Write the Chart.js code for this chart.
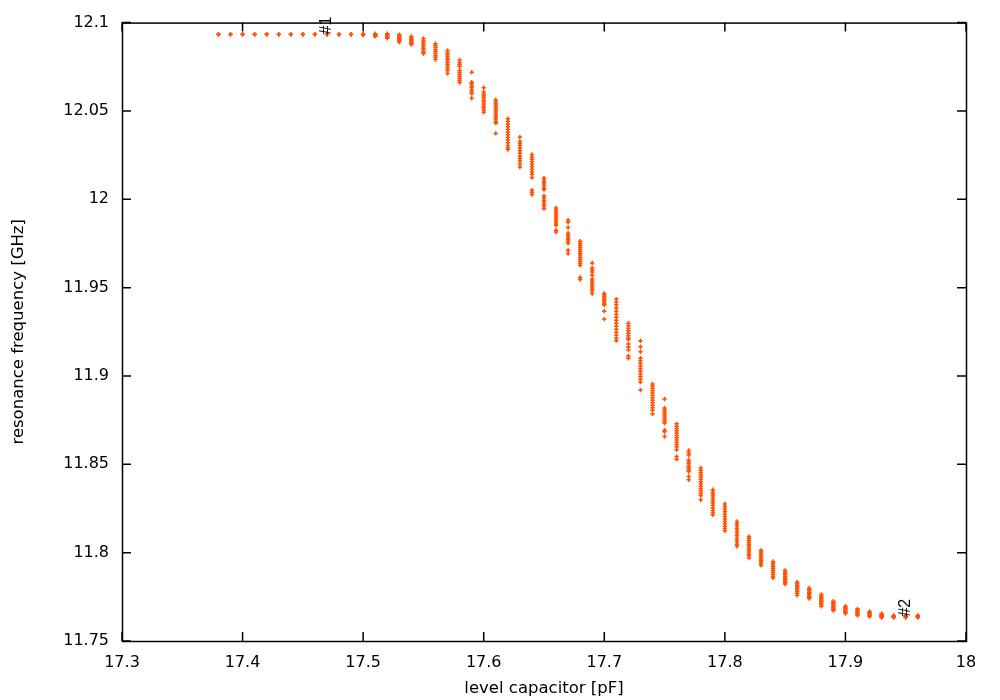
<!DOCTYPE html>
<html>
<head>
<meta charset="utf-8">
<script src="https://cdn.jsdelivr.net/npm/chart.js@4/dist/chart.umd.min.js"></script>
<style>
    html, body { margin: 0; padding: 0; background: #fff; }
    #wrap { width: 1000px; height: 700px; position: relative; }
</style>
</head>
<body>
<div id="wrap"><canvas id="resChart"></canvas></div>
<script>
// level capacitor settings [pF], one column of measurements each
const capValues = [
    17.38, 17.39, 17.40, 17.41, 17.42, 17.43, 17.44, 17.45, 17.46, 17.47,
    17.48, 17.49, 17.50, 17.51, 17.52, 17.53, 17.54, 17.55, 17.56, 17.57,
    17.58, 17.59, 17.60, 17.61, 17.62, 17.63, 17.64, 17.65, 17.66, 17.67,
    17.68, 17.69, 17.70, 17.71, 17.72, 17.73, 17.74, 17.75, 17.76, 17.77,
    17.78, 17.79, 17.80, 17.81, 17.82, 17.83, 17.84, 17.85, 17.86, 17.87,
    17.88, 17.89, 17.90, 17.91, 17.92, 17.93, 17.94, 17.95, 17.96
];

// resonance frequencies [GHz] read for each capacitor setting
const freqValues = [
    [12.0934, 12.0932], [12.0934, 12.0932], [12.0934, 12.0932], [12.0934, 12.0932],
    [12.0934, 12.0932], [12.0934, 12.0932], [12.0934, 12.0932], [12.0934, 12.0932],
    [12.0934, 12.0932], [12.0934, 12.0932], [12.0934, 12.0932], [12.0934, 12.0932],
    [12.0935, 12.0932, 12.0930],
    [12.0937, 12.0933, 12.0929, 12.0925, 12.0922],
    [12.0937, 12.0932, 12.0927, 12.0921, 12.0915, 12.0911],
    [12.0932, 12.0925, 12.0918, 12.0911, 12.0904, 12.0897, 12.0890],
    [12.0921, 12.0913, 12.0905, 12.0897, 12.0889, 12.0882, 12.0876],
    [12.0910, 12.0898, 12.0887, 12.0876, 12.0865, 12.0853, 12.0842, 12.0831, 12.0825],
    [12.0881, 12.0870, 12.0859, 12.0847, 12.0836, 12.0825, 12.0813, 12.0802, 12.0791],
    [12.0842, 12.0830, 12.0819, 12.0808, 12.0796, 12.0785, 12.0774, 12.0763, 12.0751, 12.0740, 12.0729, 12.0712],
    [12.0789, 12.0774, 12.0763, 12.0751, 12.0729, 12.0717, 12.0706, 12.0695, 12.0684, 12.0672, 12.0661],
    [12.0719, 12.0663, 12.0654, 12.0643, 12.0632, 12.0620, 12.0609, 12.0598, 12.0572],
    [12.0631, 12.0607, 12.0595, 12.0584, 12.0573, 12.0561, 12.0550, 12.0539, 12.0527, 12.0516, 12.0505, 12.0493],
    [12.0563, 12.0552, 12.0541, 12.0529, 12.0518, 12.0507, 12.0495, 12.0484, 12.0473, 12.0461, 12.0450, 12.0439, 12.0431, 12.0373],
    [12.0456, 12.0440, 12.0425, 12.0410, 12.0395, 12.0380, 12.0365, 12.0350, 12.0335, 12.0320, 12.0305, 12.0290, 12.0282],
    [12.0352, 12.0327, 12.0316, 12.0305, 12.0290, 12.0274, 12.0260, 12.0245, 12.0231, 12.0216, 12.0200, 12.0182],
    [12.0254, 12.0240, 12.0226, 12.0212, 12.0198, 12.0184, 12.0170, 12.0156, 12.0141, 12.0123, 12.0051, 12.0040, 12.0027],
    [12.0120, 12.0108, 12.0097, 12.0086, 12.0075, 12.0063, 12.0055, 12.0020, 12.0007, 11.9995, 11.9983, 11.9971, 11.9959, 11.9947],
    [11.9951, 11.9940, 11.9928, 11.9917, 11.9906, 11.9894, 11.9883, 11.9872, 11.9860, 11.9853, 11.9825, 11.9815],
    [11.9881, 11.9870, 11.9840, 11.9808, 11.9796, 11.9785, 11.9774, 11.9762, 11.9751, 11.9712, 11.9693],
    [11.9763, 11.9751, 11.9740, 11.9729, 11.9717, 11.9706, 11.9695, 11.9684, 11.9672, 11.9661, 11.9650, 11.9638, 11.9627, 11.9558, 11.9546],
    [11.9640, 11.9611, 11.9600, 11.9588, 11.9571, 11.9549, 11.9537, 11.9526, 11.9515, 11.9503, 11.9492, 11.9481, 11.9467],
    [11.9467, 11.9458, 11.9450, 11.9441, 11.9432, 11.9424, 11.9415, 11.9407, 11.9401, 11.9367, 11.9322],
    [11.9435, 11.9418, 11.9401, 11.9384, 11.9367, 11.9350, 11.9333, 11.9316, 11.9299, 11.9282, 11.9265, 11.9248, 11.9231, 11.9214, 11.9200],
    [11.9298, 11.9284, 11.9270, 11.9256, 11.9242, 11.9228, 11.9214, 11.9207, 11.9181, 11.9164, 11.9147, 11.9113, 11.9100],
    [11.9199, 11.9165, 11.9137, 11.9100, 11.9085, 11.9070, 11.9055, 11.9040, 11.9025, 11.9010, 11.8995, 11.8980, 11.8965, 11.8921],
    [11.8955, 11.8943, 11.8930, 11.8917, 11.8904, 11.8890, 11.8876, 11.8862, 11.8848, 11.8834, 11.8820, 11.8806, 11.8785],
    [11.8870, 11.8819, 11.8807, 11.8796, 11.8785, 11.8773, 11.8762, 11.8751, 11.8740, 11.8734, 11.8694, 11.8685, 11.8657],
    [11.8729, 11.8716, 11.8703, 11.8690, 11.8677, 11.8663, 11.8650, 11.8637, 11.8624, 11.8611, 11.8598, 11.8582, 11.8544, 11.8529],
    [11.8578, 11.8565, 11.8553, 11.8525, 11.8514, 11.8503, 11.8491, 11.8480, 11.8469, 11.8459, 11.8431, 11.8412],
    [11.8479, 11.8466, 11.8453, 11.8440, 11.8427, 11.8414, 11.8401, 11.8388, 11.8375, 11.8362, 11.8349, 11.8336, 11.8323, 11.8299],
    [11.8356, 11.8344, 11.8332, 11.8320, 11.8307, 11.8294, 11.8281, 11.8268, 11.8254, 11.8240, 11.8227, 11.8214],
    [11.8275, 11.8261, 11.8247, 11.8233, 11.8219, 11.8205, 11.8191, 11.8177, 11.8163, 11.8150, 11.8137, 11.8124],
    [11.8177, 11.8164, 11.8151, 11.8138, 11.8125, 11.8112, 11.8099, 11.8086, 11.8073, 11.8060, 11.8048, 11.8036],
    [11.8092, 11.8081, 11.8070, 11.8059, 11.8048, 11.8037, 11.8026, 11.8015, 11.8004, 11.7993, 11.7982, 11.7970],
    [11.8013, 11.8004, 11.7994, 11.7984, 11.7975, 11.7966, 11.7957, 11.7947, 11.7938, 11.7928],
    [11.7950, 11.7940, 11.7930, 11.7920, 11.7910, 11.7900, 11.7889, 11.7878, 11.7867, 11.7857],
    [11.7900, 11.7891, 11.7882, 11.7873, 11.7864, 11.7855, 11.7846, 11.7837, 11.7830, 11.7823],
    [11.7834, 11.7825, 11.7816, 11.7807, 11.7798, 11.7789, 11.7780, 11.7770, 11.7759],
    [11.7800, 11.7792, 11.7784, 11.7776, 11.7768, 11.7760, 11.7752, 11.7746, 11.7740],
    [11.7763, 11.7755, 11.7747, 11.7739, 11.7731, 11.7723, 11.7715, 11.7706, 11.7697],
    [11.7725, 11.7718, 11.7711, 11.7704, 11.7697, 11.7690, 11.7683, 11.7677, 11.7672],
    [11.7697, 11.7690, 11.7683, 11.7676, 11.7669, 11.7662, 11.7655],
    [11.7682, 11.7676, 11.7670, 11.7664, 11.7658, 11.7651, 11.7644],
    [11.7667, 11.7661, 11.7655, 11.7649, 11.7644, 11.7639],
    [11.7655, 11.7650, 11.7645, 11.7640, 11.7636, 11.7633],
    [11.7644, 11.7640, 11.7636, 11.7633],
    [11.7644, 11.7640, 11.7636, 11.7633],
    [11.7644, 11.7640, 11.7636, 11.7633]
];

const xTicks = [17.3, 17.4, 17.5, 17.6, 17.7, 17.8, 17.9, 18.0];
const xTickLabels = ['17.3', '17.4', '17.5', '17.6', '17.7', '17.8', '17.9', '18'];
const yTicks = [11.75, 11.8, 11.85, 11.9, 11.95, 12.0, 12.05, 12.1];
const yTickLabels = ['11.75', '11.8', '11.85', '11.9', '11.95', '12', '12.05', '12.1'];

// "#1" / "#2" markers
const markText = ['#1', '#2'];
const markX = [17.47, 17.95];
const markY = [12.0933, 11.7638];

const pointColor = 'rgb(255, 80, 0)';

const points = [];
capValues.forEach(function (c, i) {
    freqValues[i].forEach(function (f) {
        points.push({ x: c, y: f });
    });
});

// gnuplot style border with inward ticks on all four sides
const framePlugin = {
    id: 'framePlugin',
    afterDatasetsDraw: function (chart) {
        const ctx = chart.ctx;
        const a = chart.chartArea;
        const xs = chart.scales.x;
        const ys = chart.scales.y;
        const tick = 9;

        ctx.save();
        ctx.strokeStyle = '#000';
        ctx.lineWidth = 1.5;
        ctx.beginPath();
        xTicks.forEach(function (v) {
            const px = xs.getPixelForValue(v);
            ctx.moveTo(px, a.bottom);
            ctx.lineTo(px, a.bottom - tick);
            ctx.moveTo(px, a.top);
            ctx.lineTo(px, a.top + tick);
        });
        yTicks.forEach(function (v) {
            const py = ys.getPixelForValue(v);
            ctx.moveTo(a.left, py);
            ctx.lineTo(a.left + tick, py);
            ctx.moveTo(a.right, py);
            ctx.lineTo(a.right - tick, py);
        });
        ctx.stroke();
        ctx.strokeRect(a.left + 0.5, a.top + 0.5, a.right - a.left, a.bottom - a.top);

        ctx.fillStyle = '#000';
        ctx.font = '16px "Liberation Sans"';
        ctx.textAlign = 'left';
        ctx.textBaseline = 'middle';
        markText.forEach(function (t, i) {
            ctx.save();
            ctx.translate(xs.getPixelForValue(markX[i]), ys.getPixelForValue(markY[i]));
            ctx.rotate(-Math.PI / 2);
            ctx.fillText(t, 0, 0);
            ctx.restore();
        });
        ctx.restore();
    }
};

new Chart(document.getElementById('resChart').getContext('2d'), {
    type: 'scatter',
    data: {
        datasets: [{
            data: points,
            pointStyle: 'cross',
            pointRadius: 2.2,
            borderWidth: 1.5,
            borderColor: pointColor,
            backgroundColor: pointColor,
            showLine: false
        }]
    },
    options: {
        responsive: true,
        maintainAspectRatio: false,
        animation: false,
        events: [],
        layout: { padding: { top: 22, right: 34, left: 0, bottom: 0 } },
        plugins: {
            legend: { display: false },
            tooltip: { enabled: false }
        },
        scales: {
            x: {
                type: 'linear',
                min: 17.3,
                max: 18.0,
                afterBuildTicks: function (scale) {
                    scale.ticks = xTicks.map(v => ({ value: v }));
                },
                afterFit: function (scale) { scale.height = 59; },
                grid: { display: false, drawTicks: false },
                border: { display: false },
                ticks: {
                    autoSkip: false,
                    maxRotation: 0,
                    padding: 12,
                    color: '#000',
                    font: { family: '"DejaVu Sans"', size: 16 },
                    callback: function (v, i) { return xTickLabels[i]; }
                },
                title: {
                    display: true,
                    text: 'level capacitor [pF]',
                    color: '#000',
                    font: { family: '"DejaVu Sans"', size: 16.5 },
                    padding: { top: 0, bottom: 1 }
                }
            },
            y: {
                type: 'linear',
                min: 11.75,
                max: 12.1,
                afterBuildTicks: function (scale) {
                    scale.ticks = yTicks.map(v => ({ value: v }));
                },
                afterFit: function (scale) { scale.width = 122; },
                grid: { display: false, drawTicks: false },
                border: { display: false },
                ticks: {
                    autoSkip: false,
                    padding: 13,
                    color: '#000',
                    font: { family: '"DejaVu Sans"', size: 16 },
                    callback: function (v, i) { return yTickLabels[i]; }
                },
                title: {
                    display: true,
                    text: 'resonance frequency [GHz]',
                    color: '#000',
                    font: { family: '"DejaVu Sans"', size: 16.5 },
                    padding: { top: 9, bottom: 0 }
                }
            }
        }
    },
    plugins: [framePlugin]
});
</script>
</body>
</html>
